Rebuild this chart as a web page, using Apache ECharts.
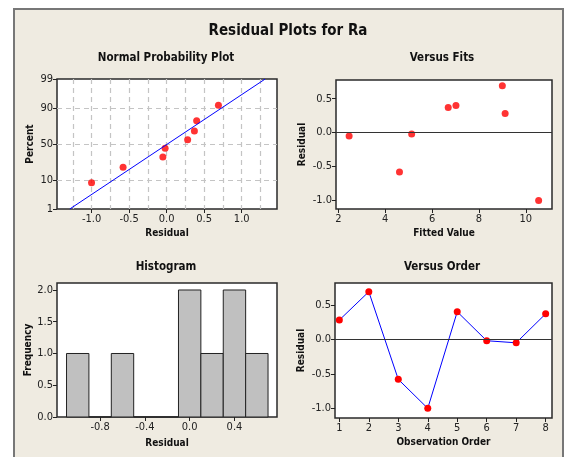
<!DOCTYPE html>
<html><head><meta charset="utf-8">
<script src="https://cdn.jsdelivr.net/npm/echarts@6/dist/echarts.min.js"></script>
<style>html,body{margin:0;padding:0;background:#fff}#c{width:566px;height:457px}</style>
</head><body><div id="c"></div>
<script>
// ---- data ----
const residuals = [0.28, 0.69, -0.58, -1.00, 0.40, -0.02, -0.05, 0.37];
const fittedValues = [9.12, 9.00, 4.61, 10.55, 7.02, 5.13, 2.46, 6.69];
const observationOrder = [1, 2, 3, 4, 5, 6, 7, 8];
const normPercent = [8.3, 20.2, 32.1, 44.0, 56.0, 67.9, 79.8, 91.7];
const histBinCenters = [-1.0, -0.8, -0.6, -0.4, -0.2, 0.0, 0.2, 0.4, 0.6];
const histCounts = [1, 0, 1, 0, 0, 2, 1, 2, 1];
// ---- tick labels ----
const npXTicks = [-1.0, -0.5, 0.0, 0.5, 1.0];
const npXGrid = [-1.25, -1.0, -0.75, -0.5, -0.25, 0, 0.25, 0.5, 0.75, 1.0, 1.25];
const npYTicks = [1, 10, 50, 90, 99];
const npYGrid = [10, 50, 90];
const fitXTicks = [2, 4, 6, 8, 10];
const residTicks = [-1.0, -0.5, 0.0, 0.5];
const histXTicks = [-0.8, -0.4, 0.0, 0.4];
const histYTicks = [0.0, 0.5, 1.0, 1.5, 2.0];
const orderTicks = [1, 2, 3, 4, 5, 6, 7, 8];

function invNorm(p){
  const a=[-3.969683028665376e+01,2.209460984245205e+02,-2.759285104469687e+02,1.383577518672690e+02,-3.066479806614716e+01,2.506628277459239e+00];
  const b=[-5.447609879822406e+01,1.615858368580409e+02,-1.556989798598866e+02,6.680131188771972e+01,-1.328068155288572e+01];
  const c=[-7.784894002430293e-03,-3.223964580411365e-01,-2.400758277161838e+00,-2.549732539343734e+00,4.374664141464968e+00,2.938163982698783e+00];
  const d=[7.784695709041462e-03,3.224671290700398e-01,2.445134137142996e+00,3.754408661907416e+00];
  const pl=0.02425, ph=1-pl; let q, r;
  if(p<pl){q=Math.sqrt(-2*Math.log(p));return (((((c[0]*q+c[1])*q+c[2])*q+c[3])*q+c[4])*q+c[5])/((((d[0]*q+d[1])*q+d[2])*q+d[3])*q+1);}
  if(p<=ph){q=p-0.5;r=q*q;return (((((a[0]*r+a[1])*r+a[2])*r+a[3])*r+a[4])*r+a[5])*q/(((((b[0]*r+b[1])*r+b[2])*r+b[3])*r+b[4])*r+1);}
  q=Math.sqrt(-2*Math.log(1-p));return -(((((c[0]*q+c[1])*q+c[2])*q+c[3])*q+c[4])*q+c[5])/((((d[0]*q+d[1])*q+d[2])*q+d[3])*q+1);
}

const F = "'DejaVu Sans Condensed','Liberation Sans',sans-serif";
const zTicks = npYTicks.map(p => invNorm(p / 100));
const zGrid = npYGrid.map(p => invNorm(p / 100));
const zMin = zTicks[0], zMax = zTicks[zTicks.length - 1];

const sortedRes = residuals.slice().sort((x, y) => x - y);
const mean = residuals.reduce((s, v) => s + v, 0) / residuals.length;
const sd = Math.sqrt(residuals.reduce((s, v) => s + (v - mean) * (v - mean), 0) / (residuals.length - 1));

const labelStyle = {fontFamily: F, fontSize: 11, color: '#222'};
const nameStyle = {fontFamily: F, fontSize: 10, fontWeight: 'bold', color: '#111'};
function axis(gridIndex, min, max, ticks, fmt, name, nameGap, margin) {
  return {
    type: 'value', gridIndex, min, max,
    axisLine: {show: false, onZero: false},
    axisTick: {show: true, length: 4, customValues: ticks, lineStyle: {color: '#222'}},
    axisLabel: Object.assign({customValues: ticks, formatter: fmt, margin: margin}, labelStyle),
    splitLine: {show: false},
    name, nameLocation: 'middle', nameGap, nameTextStyle: nameStyle
  };
}
function gridAxis(gridIndex, min, max, vals, pos) {
  return {
    type: 'value', gridIndex, min, max, position: pos,
    axisLine: {show: false, onZero: false},
    axisTick: {show: false, customValues: vals},
    axisLabel: {show: false},
    splitLine: {show: true, lineStyle: {color: '#c4c4c4', width: 1.2, type: [5, 4]}}
  };
}
const f1 = v => v.toFixed(1);
const f0 = v => String(Math.round(v));
const pctFmt = v => {
  let bi = 0;
  zTicks.forEach((z, i) => { if (Math.abs(z - v) < Math.abs(zTicks[bi] - v)) bi = i; });
  return String(npYTicks[bi]);
};
const gridStyle = {show: true, backgroundColor: '#fff', borderColor: '#2a2a2a', borderWidth: 1.5, containLabel: false};
const zeroLine = {
  silent: true, symbol: 'none', animation: false,
  label: {show: false},
  lineStyle: {color: '#333', width: 1, type: 'solid'},
  data: [{yAxis: 0}]
};
const binW = histBinCenters[1] - histBinCenters[0];
const titleFont = 'bold 15px ' + F, subFont = 'bold 11.5px ' + F;

const option = {
  animation: false,
  backgroundColor: '#fff',
  graphic: [
    {type: 'rect', z: -100, silent: true, shape: {x: 14, y: 9, width: 549, height: 470},
     style: {fill: '#EFEBE1', stroke: '#777', lineWidth: 2}},
    {type: 'text', x: 288, y: 31, style: {text: 'Residual Plots for Ra', font: titleFont, fill: '#111', align: 'center', verticalAlign: 'middle'}},
    {type: 'text', x: 166, y: 58, style: {text: 'Normal Probability Plot', font: subFont, fill: '#111', align: 'center', verticalAlign: 'middle'}},
    {type: 'text', x: 442, y: 58, style: {text: 'Versus Fits', font: subFont, fill: '#111', align: 'center', verticalAlign: 'middle'}},
    {type: 'text', x: 166, y: 267, style: {text: 'Histogram', font: subFont, fill: '#111', align: 'center', verticalAlign: 'middle'}},
    {type: 'text', x: 442, y: 267, style: {text: 'Versus Order', font: subFont, fill: '#111', align: 'center', verticalAlign: 'middle'}}
  ],
  grid: [
    Object.assign({left: 57, top: 79, width: 220, height: 130}, gridStyle),
    Object.assign({left: 336, top: 80, width: 216, height: 129}, gridStyle),
    Object.assign({left: 57, top: 283, width: 220, height: 134}, gridStyle),
    Object.assign({left: 335, top: 283, width: 217, height: 135}, gridStyle)
  ],
  xAxis: [
    axis(0, -1.46, 1.47, npXTicks, f1, 'Residual', 19, 5),
    gridAxis(0, -1.46, 1.47, npXGrid, 'top'),
    axis(1, 1.9, 11.12, fitXTicks, f0, 'Fitted Value', 19, 5),
    axis(2, -1.185, 0.78, histXTicks, f1, 'Residual', 21, 5),
    axis(3, 0.853, 8.215, orderTicks, f0, 'Observation Order', 19, 5)
  ],
  yAxis: [
    axis(0, zMin, zMax, zTicks, pctFmt, 'Percent', 22, 4),
    gridAxis(0, zMin, zMax, zGrid, 'right'),
    axis(1, -1.127, 0.775, residTicks, f1, 'Residual', 29, 4),
    axis(2, 0, 2.11, histYTicks, f1, 'Frequency', 24, 4),
    axis(3, -1.14, 0.817, residTicks, f1, 'Residual', 29, 4)
  ],
  series: [
    {type: 'line', xAxisIndex: 0, yAxisIndex: 0, showSymbol: false, silent: true,
     lineStyle: {color: '#0000ff', width: 1},
     data: [[mean + sd * zMin, zMin], [mean + sd * zMax, zMax]]},
    {type: 'scatter', xAxisIndex: 0, yAxisIndex: 0, symbolSize: 7,
     itemStyle: {color: '#ff0000'},
     data: sortedRes.map((r, i) => [r, invNorm(normPercent[i] / 100)])},
    {type: 'scatter', xAxisIndex: 2, yAxisIndex: 2, symbolSize: 7,
     itemStyle: {color: '#ff0000'},
     markLine: zeroLine,
     data: fittedValues.map((f, i) => [f, residuals[i]])},
    {type: 'custom', xAxisIndex: 3, yAxisIndex: 3,
     data: histBinCenters.map((c, i) => [c, histCounts[i]]),
     encode: {x: 0, y: 1},
     renderItem: function (params, api) {
       const c = api.value(0), n = api.value(1);
       const p0 = api.coord([c - binW / 2, n]);
       const p1 = api.coord([c + binW / 2, 0]);
       return {type: 'rect', shape: {x: p0[0], y: p0[1], width: p1[0] - p0[0], height: p1[1] - p0[1]},
               style: {fill: '#c0c0c0', stroke: '#222', lineWidth: 1}};
     }},
    {type: 'line', xAxisIndex: 4, yAxisIndex: 4, symbol: 'circle', symbolSize: 7,
     itemStyle: {color: '#ff0000'}, lineStyle: {color: '#0000ff', width: 1},
     markLine: zeroLine,
     data: observationOrder.map((o, i) => [o, residuals[i]])}
  ]
};
const chart = echarts.init(document.getElementById('c'), null, {renderer: 'canvas'});
chart.setOption(option);
</script></body></html>
